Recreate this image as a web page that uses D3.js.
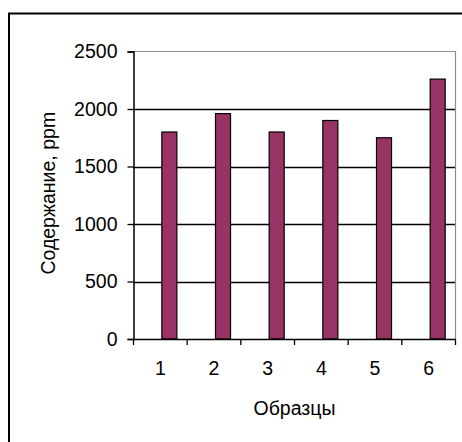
<!DOCTYPE html>
<html>
<head>
<meta charset="utf-8">
<script src="https://cdn.jsdelivr.net/npm/d3@7/dist/d3.min.js"></script>
<style>
  html, body { margin: 0; padding: 0; background: #fff; }
  svg { display: block; }
  text { font-family: Arial, "Liberation Sans", sans-serif; fill: #000; }
</style>
</head>
<body>
<svg id="chart"></svg>
<script>
// data
const samples = ['1', '2', '3', '4', '5', '6']
const content = [1800, 1960, 1800, 1900, 1750, 2260]
const yTicks = [0, 500, 1000, 1500, 2000, 2500]
const xTitle = 'Образцы'
const yTitle = 'Содержание, ppm'

const width = 462
const height = 442
const plot = { left: 133.5, right: 455.5, top: 51.5, bottom: 339 }
const fontSize = '19.5px'

const svg = d3.select('#chart')
    .attr('width', width)
    .attr('height', height)

// outer chart frame (runs off the right and bottom edge)
svg.append('path')
    .attr('d', `M9,${height + 5}V13.5H${width + 5}`)
    .attr('fill', 'none')
    .attr('stroke', '#000')
    .attr('stroke-width', 2)

const x = d3.scaleBand()
    .domain(samples)
    .range([plot.left, plot.right])
    .padding(0)

const y = d3.scaleLinear()
    .domain([0, 2500])
    .range([plot.bottom, plot.top])

// gridlines
svg.append('g')
    .selectAll('line')
    .data(yTicks.filter(d => d > 0 && d < 2500))
    .enter()
    .append('line')
    .attr('x1', plot.left)
    .attr('x2', plot.right)
    .attr('y1', d => Math.round(y(d)) + 0.5)
    .attr('y2', d => Math.round(y(d)) + 0.5)
    .attr('stroke', '#000')
    .attr('stroke-width', 1.3)

// gray plot border top + right
svg.append('path')
    .attr('d', `M${plot.left},${plot.top}H${plot.right}V${plot.bottom}`)
    .attr('fill', 'none')
    .attr('stroke', '#8c8c8c')
    .attr('stroke-width', 1.2)

// bars (sit in the right half of each category, like the 2nd series of an excel cluster)
const barW = x.bandwidth() * 0.28
svg.append('g')
    .selectAll('rect')
    .data(content)
    .enter()
    .append('rect')
    .attr('x', (d, i) => x(samples[i]) + x.bandwidth() / 2 + 1.5)
    .attr('y', d => y(d))
    .attr('width', barW)
    .attr('height', d => y(0) - y(d))
    .attr('fill', '#993366')
    .attr('stroke', '#000')
    .attr('stroke-width', 1.2)

// y axis
const yAxis = svg.append('g')
    .attr('transform', `translate(${plot.left},0)`)
    .call(d3.axisLeft(y).tickValues(yTicks).tickSize(6).tickPadding(10).tickFormat(d3.format('d')))
yAxis.select('.domain').attr('stroke', '#000').attr('stroke-width', 1.5)
yAxis.selectAll('.tick line').attr('stroke', '#000').attr('stroke-width', 1.3)
yAxis.selectAll('.tick text')
    .style('font-size', fontSize)
    .attr('fill', '#000')

// x axis
const xAxis = svg.append('g')
    .attr('transform', `translate(0,${plot.bottom})`)
    .call(d3.axisBottom(x).tickSize(0).tickPadding(22))
xAxis.select('.domain').attr('stroke', '#000').attr('stroke-width', 1.5)
xAxis.selectAll('.tick text')
    .style('font-size', fontSize)
    .attr('fill', '#000')

// boundary ticks between categories
svg.append('g')
    .selectAll('line')
    .data(samples.concat(['end']))
    .enter()
    .append('line')
    .attr('x1', (d, i) => i < samples.length ? x(d) : plot.right)
    .attr('x2', (d, i) => i < samples.length ? x(d) : plot.right)
    .attr('y1', plot.bottom)
    .attr('y2', plot.bottom + 6)
    .attr('stroke', '#000')
    .attr('stroke-width', 1.3)

// titles
svg.append('text')
    .attr('x', (plot.left + plot.right) / 2)
    .attr('y', 415)
    .attr('text-anchor', 'middle')
    .style('font-size', fontSize)
    .text(xTitle)

svg.append('text')
    .attr('transform', `translate(55,${(plot.top + plot.bottom) / 2 - 2}) rotate(-90)`)
    .attr('text-anchor', 'middle')
    .style('font-size', fontSize)
    .text(yTitle)
</script>
</body>
</html>
